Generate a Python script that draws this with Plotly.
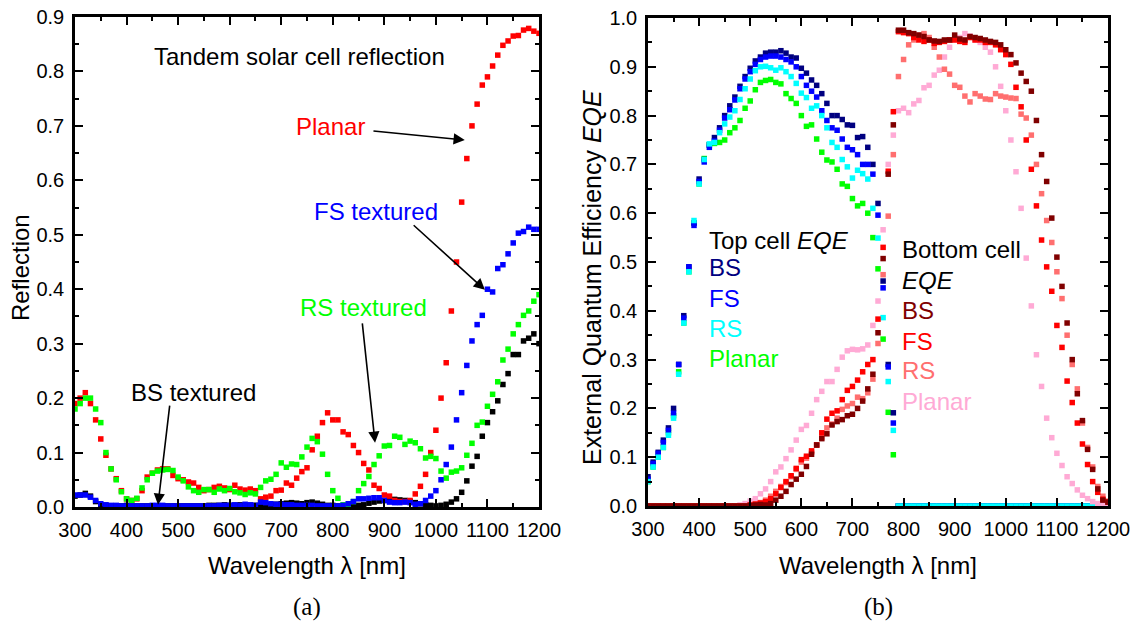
import plotly.graph_objects as go

# Wavelength grid [nm]
wavelength = [300, 310, 320, 330, 340, 350, 360, 370, 380, 390,
              400, 410, 420, 430, 440, 450, 460, 470, 480, 490,
              500, 510, 520, 530, 540, 550, 560, 570, 580, 590,
              600, 610, 620, 630, 640, 650, 660, 670, 680, 690,
              700, 710, 720, 730, 740, 750, 760, 770, 780, 790,
              800, 810, 820, 830, 840, 850, 860, 870, 880, 890,
              900, 910, 920, 930, 940, 950, 960, 970, 980, 990,
              1000, 1010, 1020, 1030, 1040, 1050, 1060, 1070, 1080, 1090,
              1100, 1110, 1120, 1130, 1140, 1150, 1160, 1170, 1180, 1190, 1200]

# ---- (a) reflection of the tandem cell ----
refl_planar = [0.19, 0.20, 0.21, 0.19, 0.16, 0.125, 0.095, 0.07, 0.052, 0.03,
               0.015, 0.012, 0.015, 0.03, 0.055, 0.062, 0.068, 0.07, 0.07, 0.058,
               0.052, 0.05, 0.046, 0.044, 0.036, 0.03, 0.032, 0.036, 0.038, 0.035,
               0.032, 0.04, 0.033, 0.031, 0.033, 0.03, 0.015, 0.018, 0.02, 0.03,
               0.031, 0.044, 0.04, 0.053, 0.065, 0.072, 0.105, 0.13, 0.155, 0.173,
               0.16, 0.16, 0.138, 0.133, 0.113, 0.10, 0.08, 0.068, 0.04, 0.034,
               0.022, 0.02, 0.012, 0.01, 0.01, 0.012, 0.024, 0.038, 0.06, 0.10,
               0.141, 0.20, 0.265, 0.36, 0.45, 0.56, 0.64, 0.70, 0.74, 0.775,
               0.79, 0.81, 0.83, 0.848, 0.856, 0.865, 0.866, 0.876, 0.879, 0.874, 0.87]

refl_fs = [0.022, 0.022, 0.022, 0.018, 0.012, 0.006, 0.004, 0.003, 0.003, 0.002,
           0.002, 0.002, 0.002, 0.002, 0.002, 0.003, 0.003, 0.003, 0.002, 0.002,
           0.002, 0.002, 0.002, 0.002, 0.002, 0.002, 0.002, 0.002, 0.003, 0.003,
           0.003, 0.004, 0.003, 0.005, 0.004, 0.003, 0.009, 0.008, 0.006, 0.005,
           0.005, 0.004, 0.004, 0.003, 0.003, 0.003, 0.003, 0.002, 0.002, 0.002,
           0.002, 0.002, 0.003, 0.006, 0.01, 0.015, 0.015, 0.016, 0.017, 0.017,
           0.012, 0.009, 0.008, 0.008, 0.009, 0.008, 0.005, 0.006, 0.012, 0.02,
           0.03, 0.05, 0.078, 0.11, 0.16, 0.21, 0.26, 0.305, 0.335, 0.352,
           0.40, 0.395, 0.438, 0.445, 0.465, 0.485, 0.503, 0.506, 0.514, 0.51, 0.51]

refl_rs = [0.18, 0.19, 0.20, 0.20, 0.18, 0.155, 0.10, 0.07, 0.05, 0.028,
           0.015, 0.012, 0.016, 0.035, 0.05, 0.062, 0.066, 0.068, 0.069, 0.067,
           0.055, 0.048, 0.037, 0.03, 0.027, 0.032, 0.032, 0.027, 0.033, 0.03,
           0.034, 0.028, 0.026, 0.023, 0.026, 0.024, 0.036, 0.048, 0.051, 0.06,
           0.081, 0.073, 0.079, 0.078, 0.092, 0.11, 0.126, 0.12, 0.097, 0.06,
           0.03, 0.016, 0.004, 0.003, 0.01, 0.03, 0.043, 0.056, 0.078, 0.094,
           0.112, 0.113, 0.13, 0.128, 0.115, 0.121, 0.118, 0.107, 0.09, 0.093,
           0.089, 0.066, 0.053, 0.064, 0.066, 0.072, 0.095, 0.117, 0.15, 0.156,
           0.185, 0.207, 0.23, 0.27, 0.29, 0.318, 0.335, 0.352, 0.36, 0.378, 0.39]

refl_bs = [0.02, 0.022, 0.025, 0.02, 0.01, 0.004, 0.003, 0.002, 0.002, 0.002,
           0.003, 0.002, 0.002, 0.002, 0.002, 0.002, 0.002, 0.002, 0.002, 0.002,
           0.002, 0.002, 0.002, 0.002, 0.002, 0.002, 0.003, 0.003, 0.003, 0.004,
           0.003, 0.003, 0.004, 0.003, 0.003, 0.003, 0.004, 0.004, 0.004, 0.005,
           0.006, 0.007, 0.008, 0.007, 0.006, 0.008, 0.009, 0.007, 0.005, 0.003,
           0.003, 0.002, 0.001, 0.002, 0.002, 0.003, 0.004, 0.007, 0.009, 0.011,
           0.012, 0.013, 0.014, 0.013, 0.012, 0.01, 0.008, 0.006, 0.004, 0.003,
           0.002, 0.003, 0.005, 0.009, 0.015, 0.027, 0.048, 0.075, 0.093, 0.13,
           0.155, 0.175, 0.195, 0.225, 0.245, 0.28, 0.28, 0.305, 0.31, 0.318, 0.30]

# ---- (b) external quantum efficiency, top cell ----
ZERO_41 = [0.0] * 41
top_bs = [0.06, 0.09, 0.11, 0.135, 0.16, 0.20, 0.29, 0.39, 0.49, 0.58,
          0.67, 0.71, 0.74, 0.755, 0.775, 0.80, 0.82, 0.838, 0.86, 0.88,
          0.897, 0.912, 0.92, 0.928, 0.93, 0.93, 0.933, 0.928, 0.92, 0.918,
          0.897, 0.887, 0.873, 0.862, 0.845, 0.825, 0.80, 0.80, 0.792, 0.781,
          0.78, 0.755, 0.757, 0.735, 0.70, 0.62, 0.461, 0.29, 0.191, 0.0] + ZERO_41

top_fs = [0.055, 0.087, 0.108, 0.13, 0.155, 0.19, 0.29, 0.385, 0.49, 0.575,
          0.665, 0.705, 0.735, 0.748, 0.77, 0.795, 0.812, 0.832, 0.855, 0.875,
          0.89, 0.905, 0.915, 0.92, 0.922, 0.922, 0.92, 0.915, 0.91, 0.90,
          0.88, 0.862, 0.85, 0.838, 0.81, 0.79, 0.775, 0.77, 0.752, 0.735,
          0.73, 0.72, 0.70, 0.70, 0.68, 0.596, 0.447, 0.285, 0.17, 0.0] + ZERO_41

top_rs = [0.05, 0.08, 0.10, 0.12, 0.145, 0.18, 0.27, 0.375, 0.48, 0.585,
          0.66, 0.71, 0.742, 0.745, 0.765, 0.783, 0.797, 0.81, 0.833, 0.855,
          0.875, 0.892, 0.90, 0.901, 0.898, 0.893, 0.898, 0.89, 0.88, 0.866,
          0.846, 0.837, 0.815, 0.82, 0.80, 0.775, 0.745, 0.735, 0.71, 0.695,
          0.672, 0.688, 0.681, 0.67, 0.61, 0.549, 0.386, 0.255, 0.155, 0.0] + ZERO_41

top_planar = [0.05, 0.08, 0.10, 0.12, 0.15, 0.185, 0.275, 0.375, 0.48, 0.58,
              0.66, 0.712, 0.74, 0.743, 0.745, 0.75, 0.765, 0.775, 0.79, 0.815,
              0.83, 0.853, 0.868, 0.872, 0.874, 0.868, 0.865, 0.845, 0.835, 0.825,
              0.80, 0.778, 0.781, 0.752, 0.725, 0.709, 0.705, 0.69, 0.66, 0.655,
              0.63, 0.615, 0.62, 0.60, 0.55, 0.486, 0.342, 0.192, 0.105, 0.0] + ZERO_41

# ---- (b) external quantum efficiency, bottom cell ----
ZERO_20 = [0.0] * 20
bot_bs = ZERO_20 + [
    0.001, 0.002, 0.003, 0.002, 0.005, 0.012, 0.02, 0.03, 0.044, 0.055,
    0.065, 0.081, 0.106, 0.125, 0.138, 0.148, 0.166, 0.173, 0.177, 0.185,
    0.188, 0.20, 0.215, 0.24, 0.27, 0.355, 0.507, 0.68, 0.781, 0.975,
    0.975, 0.97, 0.968, 0.965, 0.962, 0.955, 0.953, 0.952, 0.955, 0.955,
    0.965, 0.957, 0.955, 0.962, 0.96, 0.958, 0.955, 0.952, 0.95, 0.945,
    0.935, 0.925, 0.908, 0.887, 0.87, 0.85, 0.79, 0.72, 0.665, 0.59,
    0.51, 0.45, 0.375, 0.30, 0.23, 0.175, 0.116, 0.075, 0.035, 0.012, 0.008]

bot_fs = ZERO_20 + [
    0.002, 0.004, 0.006, 0.009, 0.015, 0.025, 0.038, 0.05, 0.062, 0.077,
    0.095, 0.102, 0.113, 0.125, 0.15, 0.178, 0.19, 0.195, 0.218, 0.237,
    0.245, 0.258, 0.275, 0.29, 0.30, 0.383, 0.53, 0.686, 0.808, 0.972,
    0.97, 0.968, 0.96, 0.955, 0.952, 0.955, 0.948, 0.95, 0.952, 0.955,
    0.955, 0.952, 0.95, 0.96, 0.955, 0.955, 0.95, 0.95, 0.945, 0.935,
    0.925, 0.905, 0.858, 0.818, 0.75, 0.69, 0.615, 0.545, 0.49, 0.44,
    0.37, 0.325, 0.256, 0.212, 0.17, 0.127, 0.085, 0.05, 0.028, 0.014, 0.008]

bot_rs = ZERO_20 + [
    0.002, 0.004, 0.007, 0.012, 0.02, 0.03, 0.04, 0.048, 0.06, 0.075,
    0.09, 0.098, 0.11, 0.125, 0.14, 0.16, 0.168, 0.18, 0.198, 0.205,
    0.21, 0.223, 0.22, 0.232, 0.26, 0.333, 0.474, 0.594, 0.72, 0.88,
    0.915, 0.945, 0.955, 0.965, 0.968, 0.96, 0.94, 0.92, 0.895, 0.885,
    0.862, 0.858, 0.84, 0.828, 0.845, 0.84, 0.834, 0.833, 0.845, 0.84,
    0.838, 0.836, 0.835, 0.803, 0.795, 0.76, 0.70, 0.64, 0.585, 0.54,
    0.48, 0.425, 0.35, 0.29, 0.24, 0.17, 0.12, 0.08, 0.04, 0.02, 0.01]

bot_planar = [0.0] * 18 + [0.002, 0.005,
    0.01, 0.015, 0.025, 0.035, 0.05, 0.07, 0.08, 0.097, 0.115, 0.135,
    0.157, 0.165, 0.19, 0.218, 0.235, 0.255, 0.255, 0.28, 0.305, 0.318,
    0.321, 0.32, 0.322, 0.33, 0.37, 0.42, 0.566, 0.70, 0.76, 0.81,
    0.815, 0.806, 0.824, 0.831, 0.857, 0.862, 0.883, 0.893, 0.92, 0.94,
    0.955, 0.96, 0.968, 0.963, 0.955, 0.95, 0.94, 0.93, 0.90, 0.86,
    0.81, 0.75, 0.685, 0.61, 0.508, 0.41, 0.31, 0.245, 0.18, 0.14,
    0.108, 0.083, 0.06, 0.046, 0.033, 0.022, 0.015, 0.009, 0.005, 0.003, 0.002]

# colours
C_BLACK, C_RED, C_BLUE, C_GREEN = "#000000", "#ff0000", "#0000ff", "#00ff00"
C_NAVY, C_CYAN = "#000080", "#00ffff"
C_DARKRED, C_SALMON, C_PINK = "#800000", "#ff6f6f", "#ffaad5"

W, H = 1141, 630
FONT = "Liberation Sans, Arial, sans-serif"
SERIF = "Liberation Serif, serif"
LABEL_SIZE = 24


def px_x(p):
    return p / W


def px_y(p):
    return 1 - p / H


fig = go.Figure()


def add_points(y, color, xa, ya):
    fig.add_trace(go.Scatter(
        x=wavelength, y=y, mode="markers", xaxis=xa, yaxis=ya,
        marker=dict(symbol="square", size=5.5, color=color, line=dict(width=0)),
        showlegend=False, hoverinfo="x+y"))


# panel (a)
add_points(refl_bs, C_BLACK, "x", "y")
add_points(refl_planar, C_RED, "x", "y")
add_points(refl_rs, C_GREEN, "x", "y")
add_points(refl_fs, C_BLUE, "x", "y")

# panel (b)
add_points(top_planar, C_GREEN, "x2", "y2")
add_points(top_bs, C_NAVY, "x2", "y2")
add_points(top_fs, C_BLUE, "x2", "y2")
add_points(top_rs, C_CYAN, "x2", "y2")
add_points(bot_planar, C_PINK, "x2", "y2")
add_points(bot_rs, C_SALMON, "x2", "y2")
add_points(bot_fs, C_RED, "x2", "y2")
add_points(bot_bs, C_DARKRED, "x2", "y2")


def axis(rng, dtick, minor_dtick, domain, anchor, fmt=None, standoff=4):
    d = dict(range=rng, domain=domain, anchor=anchor, automargin=False,
             showline=True, linecolor="black", linewidth=2.5, mirror="allticks",
             ticks="inside", ticklen=8, tickwidth=2, tickcolor="black",
             tick0=0, dtick=dtick, ticklabelstandoff=standoff,
             minor=dict(ticks="inside", ticklen=4.5, tickwidth=2,
                        tickcolor="black", dtick=minor_dtick, showgrid=False),
             showgrid=False, zeroline=False,
             tickfont=dict(family=FONT, size=20, color="black"))
    if fmt:
        d["tickformat"] = fmt
    return d


left_dom = [px_x(75), px_x(539)]
right_dom = [px_x(648), px_x(1108)]
left_ydom = [px_y(507), px_y(17)]
right_ydom = [px_y(506), px_y(18)]

fig.update_layout(
    width=W, height=H,
    margin=dict(l=0, r=0, t=0, b=0, autoexpand=False),
    paper_bgcolor="white", plot_bgcolor="white",
    xaxis=axis([300, 1200], 100, 50, left_dom, "y", standoff=3),
    yaxis=axis([0, 0.9], 0.1, 0.05, left_ydom, "x", ".1f", standoff=4),
    xaxis2=axis([300, 1200], 100, 50, right_dom, "y2", standoff=3),
    yaxis2=axis([0, 1.0], 0.1, 0.05, right_ydom, "x2", ".1f", standoff=4),
)

ann = []


def text(x, y, s, color="black", xref="x", yref="y", size=LABEL_SIZE,
         xanchor="center", angle=0, family=FONT):
    ann.append(dict(x=x, y=y, xref=xref, yref=yref, text=s, showarrow=False,
                    xanchor=xanchor, yanchor="middle", textangle=angle,
                    font=dict(family=family, size=size, color=color)))


def arrow(x0, y0, x1, y1, xref="x", yref="y"):
    ann.append(dict(x=x1, y=y1, ax=x0, ay=y0, xref=xref, yref=yref,
                    axref=xref, ayref=yref, text="", showarrow=True,
                    arrowhead=2, arrowsize=1.4, arrowwidth=1.6,
                    arrowcolor="black"))


# panel (a) labels
text(736, 0.827, "Tandem solar cell reflection")
text(795, 0.698, "Planar", C_RED)
arrow(876, 0.691, 1056, 0.674)
text(884, 0.542, "FS textured", C_BLUE)
arrow(954, 0.520, 1095, 0.399)
text(860, 0.367, "RS textured", C_GREEN)
arrow(857, 0.340, 882, 0.118)
text(529, 0.211, "BS textured", C_BLACK)
arrow(484, 0.189, 461, 0.004)

# panel (b) labels
text(415, 0.545, "Top cell <i>EQE</i>", "black", "x2", "y2", xanchor="left")
text(415, 0.488, "BS", C_NAVY, "x2", "y2", xanchor="left")
text(415, 0.426, "FS", C_BLUE, "x2", "y2", xanchor="left")
text(415, 0.364, "RS", C_CYAN, "x2", "y2", xanchor="left")
text(415, 0.302, "Planar", C_GREEN, "x2", "y2", xanchor="left")
text(793, 0.525, "Bottom cell", "black", "x2", "y2", xanchor="left")
text(793, 0.462, "<i>EQE</i>", "black", "x2", "y2", xanchor="left")
text(793, 0.400, "BS", C_DARKRED, "x2", "y2", xanchor="left")
text(793, 0.338, "FS", C_RED, "x2", "y2", xanchor="left")
text(793, 0.277, "RS", C_SALMON, "x2", "y2", xanchor="left")
text(793, 0.215, "Planar", C_PINK, "x2", "y2", xanchor="left")

# axis titles
text(px_x(20), px_y(268), "Reflection", xref="paper", yref="paper", angle=-90)
text(px_x(592), px_y(278), "External Quantum Efficiency <i>EQE</i>",
     xref="paper", yref="paper", angle=-90, size=25)
text(px_x(307), px_y(565), "Wavelength λ [nm]", xref="paper", yref="paper")
text(px_x(878), px_y(565), "Wavelength λ [nm]", xref="paper", yref="paper")

# panel captions
text(px_x(307), px_y(607), "(a)", xref="paper", yref="paper", size=25,
     family=SERIF)
text(px_x(878), px_y(607), "(b)", xref="paper", yref="paper", size=25,
     family=SERIF)

fig.update_layout(annotations=ann)

fig.write_html("out.html")
